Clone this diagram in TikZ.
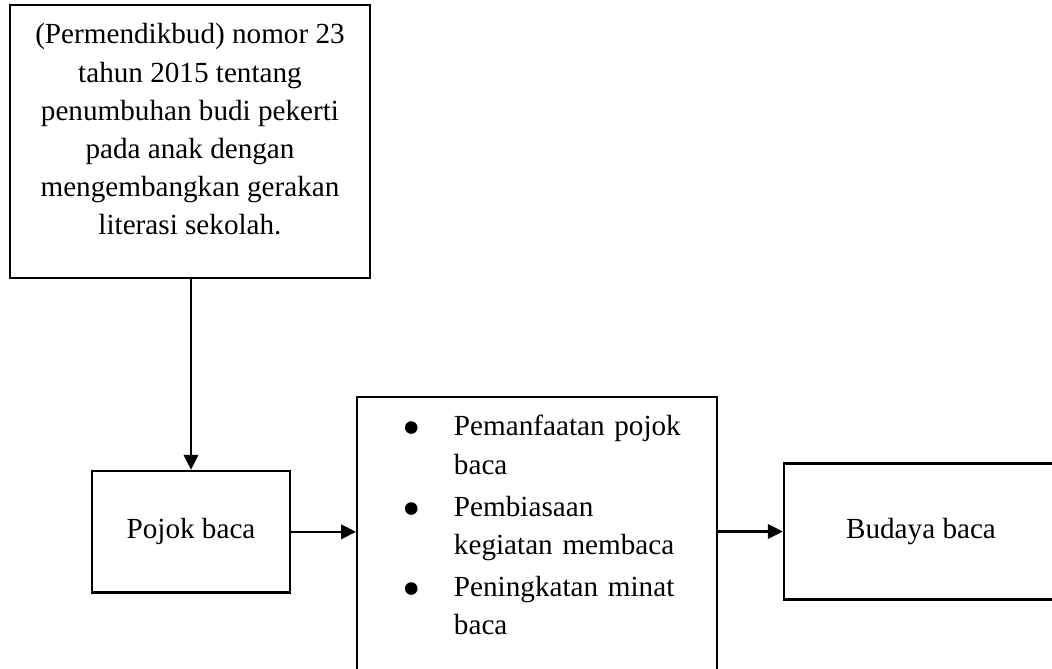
\documentclass[tikz,border=0pt]{standalone}
\usepackage{fontspec}
\setmainfont{Liberation Serif}
\usepackage{tikz}
\usetikzlibrary{arrows.meta, positioning, calc}

\newcommand{\butir}{\raisebox{-0.2cm}{\fontsize{30}{30}\selectfont\textbullet}}

\begin{document}
\begin{tikzpicture}[
    kotak/.style={draw, line width=1.4pt, font=\fontsize{16.6}{21.74}\selectfont},
    panah/.style={-{Triangle[length=0.3cm, width=0.29cm]}, line width=1.4pt}
  ]
    % batas gambar
    \useasboundingbox (0,0) rectangle (21.04,-13.36);
    \clip (0,0) rectangle (21.04,-13.36);

    % dasar hukum
    \node[kotak, minimum width=7.2cm, minimum height=5.46cm, align=center] (permendikbud) at (3.8,-2.83)
        {(Permendikbud) nomor 23\\ tahun 2015 tentang\\ penumbuhan budi pekerti\\
         pada anak dengan\\ mengembangkan gerakan\\ literasi sekolah.\rule[-0.49cm]{0pt}{0pt}};

    % pojok baca
    \node[kotak, minimum width=3.96cm, minimum height=2.434cm] (pojok) at (3.82,-10.637) {Pojok baca};

    % kegiatan
    \node[kotak, anchor=north west, text width=7.2cm, inner xsep=0pt, inner ysep=0.246cm, align=left] (kegiatan) at (7.12,-7.914)
        {\begin{tabular}{@{\hspace{0.896cm}}l@{\hspace{0.67cm}}l@{}}
         \butir & Pemanfaatan pojok\\
                & baca\\[0.08cm]
         \butir & Pembiasaan\\
                & kegiatan membaca\\[0.08cm]
         \butir & Peningkatan minat\\
                & baca\\[1.2cm]
         \end{tabular}};

    % budaya baca
    \node[kotak, minimum width=5.48cm, minimum height=2.72cm] (budaya) at (18.42,-10.63) {Budaya baca};

    % panah
    \draw[panah] (pojok.north |- permendikbud.south) -- (pojok.north);
    \draw[panah] (pojok.east) -- (pojok.east -| kegiatan.west);
    \draw[panah] (budaya.west -| kegiatan.east) -- (budaya.west);
\end{tikzpicture}
\end{document}
